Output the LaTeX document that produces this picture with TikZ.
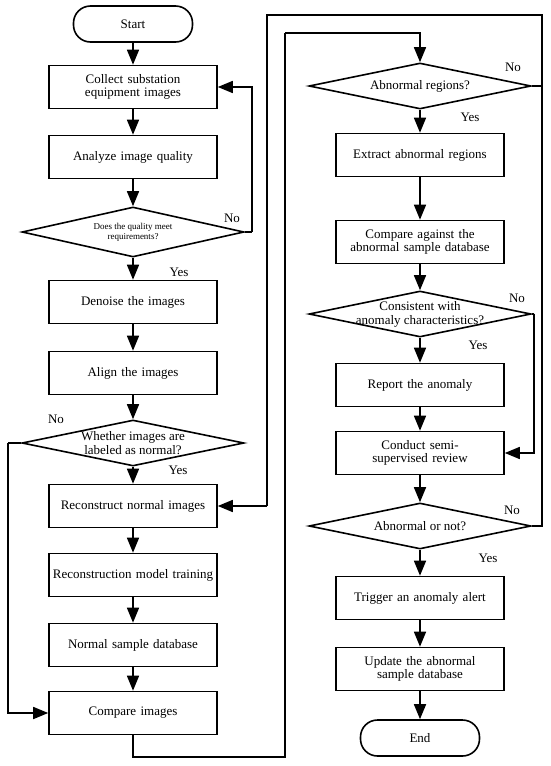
\documentclass[tikz,border=0pt]{standalone}
\usepackage{fontspec}
\setmainfont{Liberation Serif}
\usetikzlibrary{shapes.geometric, arrows.meta}
\tikzset{%
  base/.style={
    draw,
    line width=1.6pt,
    font=\fontsize{13}{13}\selectfont},
  process/.style={
    base,
    rectangle,
    minimum width=168pt,
    minimum height=43pt,
    text width=164pt,
    inner xsep=2pt,
    align=center},
  terminal/.style={
    base,
    rectangle,
    rounded corners=17pt,
    minimum width=119pt,
    minimum height=36pt},
  decision/.style={
    base,
    diamond,
    aspect=4.8,
    inner sep=0pt,
    minimum width=222pt,
    minimum height=46pt},
  dtext/.style={
    align=center,
    inner sep=0pt,
    font=\fontsize{13}{14}\selectfont},
  yesno/.style={
    inner sep=0pt,
    font=\fontsize{13}{13}\selectfont},
  every edge/.style={
    draw,
    -{Triangle[length=15pt,width=12pt]},
    line width=1.6pt} %
}

\begin{document}
\begin{tikzpicture}[x=1pt, y=-1pt, line width=1.6pt]
    \useasboundingbox (0,0) rectangle (550,766);

    % left column
    \node[terminal] (start) at (133,24) {Start};
    \node[process] (collect) at (133,87) {Collect substation\\equipment images};
    \node[process] (analyze) at (133,157) {Analyze image quality};
    \node[decision, minimum height=50pt,
      label={[dtext, font=\fontsize{9}{10}\selectfont]center:Does the quality meet\\requirements?}]
      (quality) at (133,232) {};
    \node[process] (denoise) at (133,302) {Denoise the images};
    \node[process] (align) at (133,373) {Align the images};
    \node[decision, label={[dtext]center:Whether images are\\labeled as normal?}]
      (labeled) at (133,443) {};
    \node[process] (recon) at (133,506) {Reconstruct normal images};
    \node[process] (train) at (133,575) {Reconstruction model training};
    \node[process] (normaldb) at (133,645) {Normal sample database};
    \node[process] (compare) at (133,713) {Compare images};

    % right column
    \node[decision, label={[dtext]center:Abnormal regions?}]
      (regions) at (420,86) {};
    \node[process] (extract) at (420,155) {Extract abnormal regions};
    \node[process] (against) at (420,242) {Compare against the\\abnormal sample database};
    \node[decision, label={[dtext]center:Consistent with\\anomaly characteristics?}]
      (consistent) at (420,314) {};
    \node[process] (report) at (420,385) {Report the anomaly};
    \node[process] (review) at (420,453) {Conduct semi-\\supervised review};
    \node[decision, label={[dtext]center:Abnormal or not?}]
      (abnormal) at (420,526) {};
    \node[process] (alert) at (420,598) {Trigger an anomaly alert};
    \node[process] (update) at (420,669) {Update the abnormal\\sample database};
    \node[terminal] (end) at (420,738) {End};

    % branch labels
    \node[yesno] (no1) at (232,218) {No};
    \node[yesno] (yes1) at (179,272) {Yes};
    \node[yesno] (no2) at (56,419) {No};
    \node[yesno] (yes2) at (178,470) {Yes};
    \node[yesno] (no3) at (513,67) {No};
    \node[yesno] (yes3) at (470,117) {Yes};
    \node[yesno] (no4) at (517,298) {No};
    \node[yesno] (yes4) at (478,345) {Yes};
    \node[yesno] (no5) at (512,510) {No};
    \node[yesno] (yes5) at (488,558) {Yes};

    \draw
      (start) edge (collect)
      (collect) edge (analyze)
      (analyze) edge (quality)
      (quality) edge (denoise)
      (denoise) edge (align)
      (align) edge (labeled)
      (labeled) edge (recon)
      (recon) edge (train)
      (train) edge (normaldb)
      (normaldb) edge (compare)
      (regions) edge (extract)
      (extract) edge (against)
      (against) edge (consistent)
      (consistent) edge (report)
      (report) edge (review)
      (review) edge (abnormal)
      (abnormal) edge (alert)
      (alert) edge (update)
      (update) edge (end)
    ;

    % loops
    \draw (quality.east) -- ++(7,0) edge[to path={|- (\tikztotarget)}] (collect.east);
    \draw (labeled.west) -- ++(-13,0) edge[to path={|- (\tikztotarget)}] (compare.west);
    \draw (compare.south) |- (285,757) -- (285,33) edge[to path={-| (\tikztotarget)}] (regions.north);
    \draw (regions.east) -- (542,86);
    \draw (abnormal.east) -| (542,15) -| (267,506) edge (recon.east);
    \draw (consistent.east) -- ++(2,0) edge[to path={|- (\tikztotarget)}] (review.east);

\end{tikzpicture}
\end{document}
